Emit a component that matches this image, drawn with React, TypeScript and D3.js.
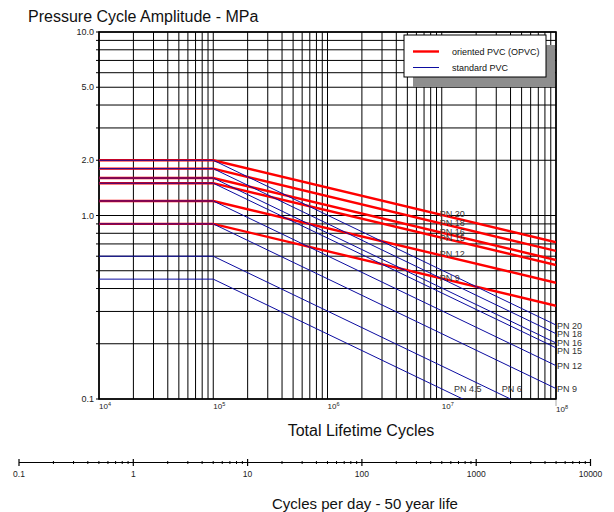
import * as d3 from "d3";
import { useRef, useEffect } from "react";

// chart box
const W = 614;
const H = 512;
const plotLeft = 99;
const plotRight = 556;
const plotTop = 32;
const plotBottom = 399;
const FONT = "'Liberation Sans', Arial, sans-serif";

// data (MPa), lines are flat from 1e4 to 1e5 then fall to 1e8
const startCycles = 1e4;
const kneeCycles = 1e5;
const endCycles = 1e8;

const opvcClasses = ["PN 20", "PN 18", "PN 16", "PN 15", "PN 12", "PN 9"];
const opvcStart = [2.0, 1.8, 1.6, 1.5, 1.2, 0.9];
const opvcEnd = [0.715, 0.641, 0.572, 0.537, 0.43, 0.322];

const pvcClasses = ["PN 20", "PN 18", "PN 16", "PN 15", "PN 12", "PN 9", "PN 6", "PN 4.5"];
const pvcStart = [2.0, 1.8, 1.6, 1.5, 1.2, 0.9, 0.6, 0.45];
const pvcEnd = [0.253, 0.227, 0.202, 0.19, 0.152, 0.114, 0.076, 0.057];

const yTickLabels = ["10.0", "5.0", "2.0", "1.0", "0.1"];
const yTickValues = [10, 5, 2, 1, 0.1];
const xTickExponents = [4, 5, 6, 7, 8];
const perDayTicks = [0.1, 1, 10, 100, 1000, 10000];
const perDayLabels = ["0.1", "1", "10", "100", "1000", "10000"];

const legendItems = ["oriented PVC (OPVC)", "standard PVC"];
const redColor = "#ff0000";
const blueColor = "#0c0ca0";

const App = () => {
  const ref = useRef(null);

  useEffect(() => {
    if (!ref.current) return;
    const svg = d3.select(ref.current);
    svg.selectAll("*").remove();

    const x = d3.scaleLog().domain([startCycles, endCycles]).range([plotLeft, plotRight]);
    const y = d3.scaleLog().domain([0.1, 10]).range([plotBottom, plotTop]);

    // grid values
    const xGrid = [];
    for (let e = 4; e < 8; e++) for (let k = 1; k <= 9; k++) xGrid.push(k * Math.pow(10, e));
    xGrid.push(1e8);
    const yGrid = [];
    for (let e = -1; e < 1; e++) for (let k = 1; k <= 9; k++) yGrid.push(k * Math.pow(10, e));
    yGrid.push(10);

    const grid = svg.append("g").attr("stroke", "#000").attr("stroke-width", 1);
    grid.selectAll("line.v")
      .data(xGrid)
      .enter().append("line")
      .attr("x1", (d) => x(d)).attr("x2", (d) => x(d))
      .attr("y1", plotTop).attr("y2", plotBottom);
    grid.selectAll("line.h")
      .data(yGrid)
      .enter().append("line")
      .attr("x1", plotLeft - 3).attr("x2", plotRight)
      .attr("y1", (d) => y(d)).attr("y2", (d) => y(d));

    // frame
    svg.append("rect")
      .attr("x", plotLeft).attr("y", plotTop)
      .attr("width", plotRight - plotLeft).attr("height", plotBottom - plotTop)
      .attr("fill", "none").attr("stroke", "#000").attr("stroke-width", 1.6);

    // y labels
    svg.append("g").selectAll("text")
      .data(yTickValues)
      .enter().append("text")
      .attr("x", plotLeft - 5)
      .attr("y", (d) => y(d) + 3)
      .attr("text-anchor", "end")
      .attr("font-size", 9)
      .attr("font-family", FONT)
      .attr("fill", "#222")
      .text((d, i) => yTickLabels[i]);

    // x labels 10^n
    const xl = svg.append("g").selectAll("text")
      .data(xTickExponents)
      .enter().append("text")
      .attr("x", (d) => x(Math.pow(10, d)))
      .attr("y", (d) => (d === 8 ? 412 : 409))
      .attr("font-size", 8)
      .attr("font-family", FONT)
      .attr("fill", "#222");
    xl.append("tspan").text("10");
    xl.append("tspan").attr("dy", -3).attr("font-size", 5.5).text((d) => d);

    svg.append("line")
      .attr("x1", x(1e8)).attr("x2", x(1e8))
      .attr("y1", 400).attr("y2", 406)
      .attr("stroke", "#aaa");

    svg.append("clipPath").attr("id", "plotclip")
      .append("rect")
      .attr("x", plotLeft).attr("y", plotTop)
      .attr("width", plotRight - plotLeft).attr("height", plotBottom - plotTop);

    const line = d3.line().x((d) => x(d[0])).y((d) => y(d[1]));
    const pts = (s, e) => [[startCycles, s], [kneeCycles, s], [endCycles, e]];

    const lines = svg.append("g").attr("clip-path", "url(#plotclip)");
    lines.selectAll("path.red")
      .data(opvcStart)
      .enter().append("path")
      .attr("d", (s, i) => line(pts(s, opvcEnd[i])))
      .attr("fill", "none")
      .attr("stroke", redColor)
      .attr("stroke-width", 2.4);
    lines.selectAll("path.blue")
      .data(pvcStart)
      .enter().append("path")
      .attr("d", (s, i) => line(pts(s, pvcEnd[i])))
      .attr("fill", "none")
      .attr("stroke", blueColor)
      .attr("stroke-width", 1);

    // OPVC labels at 1e7
    const valueAt = (s, e, c) => {
      const t = (Math.log10(c) - Math.log10(kneeCycles)) / (Math.log10(endCycles) - Math.log10(kneeCycles));
      return Math.pow(10, Math.log10(s) + t * (Math.log10(e) - Math.log10(s)));
    };
    svg.append("g").selectAll("text")
      .data(opvcClasses)
      .enter().append("text")
      .attr("x", x(1e7) - 2)
      .attr("y", (d, i) => y(valueAt(opvcStart[i], opvcEnd[i], 1e7)) + 2 + (d === "PN 15" ? 1 : 0))
      .attr("font-size", 9)
      .attr("font-family", FONT)
      .attr("fill", "#333")
      .text((d) => d);

    // PVC labels: at right edge, or next to the line on the PN 9 row
    const rowValue = pvcEnd[5];
    svg.append("g").selectAll("text")
      .data(pvcClasses)
      .enter().append("text")
      .attr("x", (d, i) => {
        if (pvcEnd[i] >= 0.1) return x(endCycles) + 1;
        const s = pvcStart[i];
        const e = pvcEnd[i];
        const t = Math.log10(s / rowValue) / Math.log10(s / e);
        const c = Math.pow(10, Math.log10(kneeCycles) + t * (Math.log10(endCycles) - Math.log10(kneeCycles)));
        return x(c) + 13;
      })
      .attr("y", (d, i) => {
        const v = pvcEnd[i] >= 0.1 ? pvcEnd[i] : rowValue;
        return y(v) + 3.5 + (d === "PN 15" ? 3 : 0);
      })
      .attr("font-size", 9)
      .attr("font-family", FONT)
      .attr("fill", "#333")
      .text((d) => d);

    // legend
    const lg = svg.append("g");
    lg.append("rect").attr("x", 413).attr("y", 45).attr("width", 142).attr("height", 42).attr("fill", "#8e8e8e");
    lg.append("rect").attr("x", 404).attr("y", 35).attr("width", 142).attr("height", 42)
      .attr("fill", "#fff").attr("stroke", "#000").attr("stroke-width", 1);
    lg.selectAll("line.item")
      .data(legendItems)
      .enter().append("line")
      .attr("x1", 413).attr("x2", 439)
      .attr("y1", (d, i) => 51.5 + i * 16).attr("y2", (d, i) => 51.5 + i * 16)
      .attr("stroke", (d, i) => (i === 0 ? redColor : blueColor))
      .attr("stroke-width", (d, i) => (i === 0 ? 2.4 : 1));
    lg.selectAll("text")
      .data(legendItems)
      .enter().append("text")
      .attr("x", 452)
      .attr("y", (d, i) => 54.5 + i * 16)
      .attr("font-size", 9)
      .attr("font-family", FONT)
      .attr("fill", "#111")
      .text((d) => d);

    // titles
    svg.append("text").attr("x", 28).attr("y", 22)
      .attr("font-size", 16).attr("font-family", FONT).attr("fill", "#111")
      .text("Pressure Cycle Amplitude - MPa");
    svg.append("text").attr("x", 361).attr("y", 436)
      .attr("text-anchor", "middle")
      .attr("font-size", 16).attr("font-family", FONT).attr("fill", "#111")
      .text("Total Lifetime Cycles");
    svg.append("text").attr("x", 365).attr("y", 509)
      .attr("text-anchor", "middle")
      .attr("font-size", 15).attr("font-family", FONT).attr("fill", "#111")
      .text("Cycles per day - 50 year life");

    // cycles per day axis
    const xd = d3.scaleLog().domain([0.1, 10000]).range([19, 590.5]);
    const axisY = 462.5;
    const minor = [];
    for (let e = -1; e < 4; e++) for (let k = 2; k <= 9; k++) minor.push(k * Math.pow(10, e));
    const ax = svg.append("g").attr("stroke", "#000");
    ax.append("line").attr("x1", xd(0.1)).attr("x2", xd(10000)).attr("y1", axisY).attr("y2", axisY);
    ax.selectAll("line.maj")
      .data(perDayTicks)
      .enter().append("line")
      .attr("x1", (d) => xd(d)).attr("x2", (d) => xd(d))
      .attr("y1", axisY - 3.5).attr("y2", axisY + 3.5)
      .attr("stroke-width", 1.2);
    ax.selectAll("line.min")
      .data(minor)
      .enter().append("line")
      .attr("x1", (d) => xd(d)).attr("x2", (d) => xd(d))
      .attr("y1", axisY - 1.5).attr("y2", axisY + 1.5);
    svg.append("g").selectAll("text")
      .data(perDayTicks)
      .enter().append("text")
      .attr("x", (d) => xd(d))
      .attr("y", 477)
      .attr("text-anchor", "middle")
      .attr("font-size", 8.5)
      .attr("font-family", FONT)
      .attr("fill", "#222")
      .text((d, i) => perDayLabels[i]);
  }, []);

  return (
    <svg
      ref={ref}
      width={W}
      height={H}
      style={{ position: "absolute", left: 0, top: 0, background: "#fff" }}
    />
  );
};

export default App;
